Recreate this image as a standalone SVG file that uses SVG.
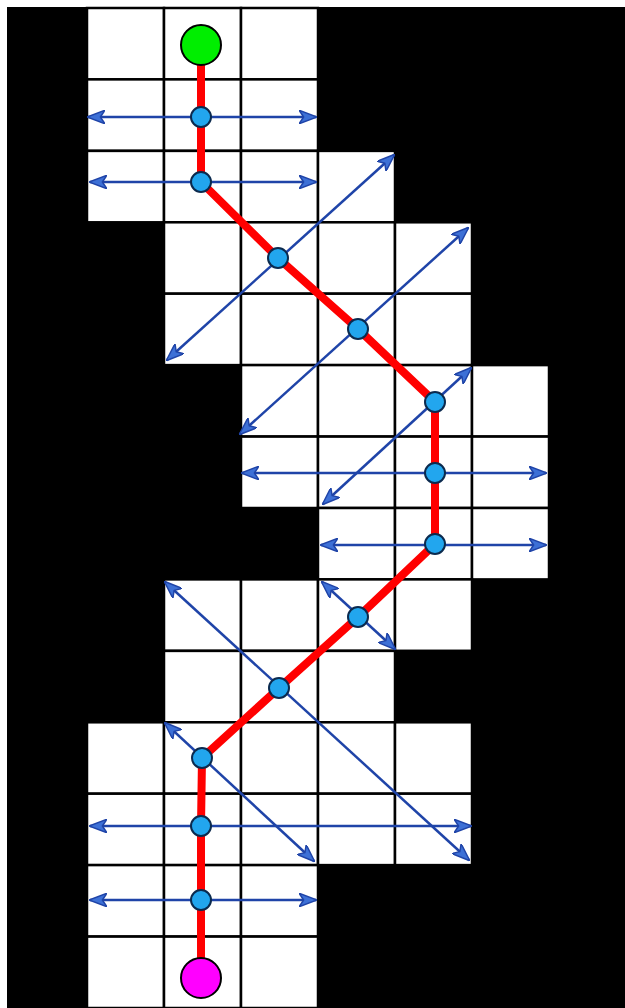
<svg xmlns="http://www.w3.org/2000/svg" width="625" height="1008" viewBox="0 0 625 1008">
<style>
.cell{fill:#ffffff;stroke:#000000;stroke-width:2.5}
.arr{stroke:#1f44a8;stroke-width:2.5;fill:none;marker-start:url(#ah);marker-end:url(#ah)}
.path{stroke:#ff0000;stroke-width:8;fill:none;stroke-linejoin:round}
.wp{fill:#22a6ee;stroke:#0b2a4e;stroke-width:2}
.end{stroke:#000000;stroke-width:2}
</style>
<defs>
<marker id="ah" markerUnits="userSpaceOnUse" viewBox="0 0 16 12" refX="15" refY="6" markerWidth="18" markerHeight="13.5" orient="auto-start-reverse">
<path d="M0,0 L16,6 L0,12 L4,6 Z" fill="#3d70d6" stroke="#1f44a8" stroke-width="1.3" stroke-linejoin="round"/>
</marker>
</defs>
<rect x="0" y="0" width="625" height="1008" fill="#ffffff"/>
<rect x="7" y="7" width="618" height="1001" fill="#000000"/>
<g id="grid">
<rect class="cell" x="87" y="8" width="77" height="71.4"/>
<rect class="cell" x="164" y="8" width="77" height="71.4"/>
<rect class="cell" x="241" y="8" width="77" height="71.4"/>
<rect class="cell" x="87" y="79.4" width="77" height="71.4"/>
<rect class="cell" x="164" y="79.4" width="77" height="71.4"/>
<rect class="cell" x="241" y="79.4" width="77" height="71.4"/>
<rect class="cell" x="87" y="150.9" width="77" height="71.4"/>
<rect class="cell" x="164" y="150.9" width="77" height="71.4"/>
<rect class="cell" x="241" y="150.9" width="77" height="71.4"/>
<rect class="cell" x="318" y="150.9" width="77" height="71.4"/>
<rect class="cell" x="164" y="222.3" width="77" height="71.4"/>
<rect class="cell" x="241" y="222.3" width="77" height="71.4"/>
<rect class="cell" x="318" y="222.3" width="77" height="71.4"/>
<rect class="cell" x="395" y="222.3" width="77" height="71.4"/>
<rect class="cell" x="164" y="293.7" width="77" height="71.4"/>
<rect class="cell" x="241" y="293.7" width="77" height="71.4"/>
<rect class="cell" x="318" y="293.7" width="77" height="71.4"/>
<rect class="cell" x="395" y="293.7" width="77" height="71.4"/>
<rect class="cell" x="241" y="365.1" width="77" height="71.4"/>
<rect class="cell" x="318" y="365.1" width="77" height="71.4"/>
<rect class="cell" x="395" y="365.1" width="77" height="71.4"/>
<rect class="cell" x="472" y="365.1" width="77" height="71.4"/>
<rect class="cell" x="241" y="436.6" width="77" height="71.4"/>
<rect class="cell" x="318" y="436.6" width="77" height="71.4"/>
<rect class="cell" x="395" y="436.6" width="77" height="71.4"/>
<rect class="cell" x="472" y="436.6" width="77" height="71.4"/>
<rect class="cell" x="318" y="508" width="77" height="71.4"/>
<rect class="cell" x="395" y="508" width="77" height="71.4"/>
<rect class="cell" x="472" y="508" width="77" height="71.4"/>
<rect class="cell" x="164" y="579.4" width="77" height="71.4"/>
<rect class="cell" x="241" y="579.4" width="77" height="71.4"/>
<rect class="cell" x="318" y="579.4" width="77" height="71.4"/>
<rect class="cell" x="395" y="579.4" width="77" height="71.4"/>
<rect class="cell" x="164" y="650.9" width="77" height="71.4"/>
<rect class="cell" x="241" y="650.9" width="77" height="71.4"/>
<rect class="cell" x="318" y="650.9" width="77" height="71.4"/>
<rect class="cell" x="87" y="722.3" width="77" height="71.4"/>
<rect class="cell" x="164" y="722.3" width="77" height="71.4"/>
<rect class="cell" x="241" y="722.3" width="77" height="71.4"/>
<rect class="cell" x="318" y="722.3" width="77" height="71.4"/>
<rect class="cell" x="395" y="722.3" width="77" height="71.4"/>
<rect class="cell" x="87" y="793.7" width="77" height="71.4"/>
<rect class="cell" x="164" y="793.7" width="77" height="71.4"/>
<rect class="cell" x="241" y="793.7" width="77" height="71.4"/>
<rect class="cell" x="318" y="793.7" width="77" height="71.4"/>
<rect class="cell" x="395" y="793.7" width="77" height="71.4"/>
<rect class="cell" x="87" y="865.1" width="77" height="71.4"/>
<rect class="cell" x="164" y="865.1" width="77" height="71.4"/>
<rect class="cell" x="241" y="865.1" width="77" height="71.4"/>
<rect class="cell" x="87" y="936.6" width="77" height="71.4"/>
<rect class="cell" x="164" y="936.6" width="77" height="71.4"/>
<rect class="cell" x="241" y="936.6" width="77" height="71.4"/>
</g>
<g id="connectors">
<line class="arr" x1="88" y1="117" x2="316" y2="117"/>
<line class="arr" x1="90" y1="182" x2="316" y2="182"/>
<line class="arr" x1="167" y1="360" x2="394" y2="155"/>
<line class="arr" x1="240" y1="434" x2="468" y2="228"/>
<line class="arr" x1="323" y1="504" x2="471" y2="368"/>
<line class="arr" x1="242" y1="473" x2="546" y2="473"/>
<line class="arr" x1="321" y1="545" x2="546" y2="545"/>
<line class="arr" x1="322" y1="582" x2="395" y2="649"/>
<line class="arr" x1="165" y1="582" x2="469" y2="860"/>
<line class="arr" x1="165" y1="723" x2="314" y2="861"/>
<line class="arr" x1="90" y1="826" x2="471" y2="826"/>
<line class="arr" x1="90" y1="900" x2="316" y2="900"/>
<polyline class="path" points="201,45 201,117 201,182 278,258 358,329 435,402 435,473 435,544 358,617 279,688 202,758 201,826 201,900 201,978"/>
</g>
<g id="start"><circle class="end" cx="201" cy="45" r="20" fill="#00ee00"/></g>
<g id="goal"><circle class="end" cx="201" cy="978" r="20" fill="#ff00ff"/></g>
<g id="n1"><circle class="wp" cx="201" cy="117" r="10"/></g>
<g id="n2"><circle class="wp" cx="201" cy="182" r="10"/></g>
<g id="n3"><circle class="wp" cx="278" cy="258" r="10"/></g>
<g id="n4"><circle class="wp" cx="358" cy="329" r="10"/></g>
<g id="n5"><circle class="wp" cx="435" cy="402" r="10"/></g>
<g id="n6"><circle class="wp" cx="435" cy="473" r="10"/></g>
<g id="n7"><circle class="wp" cx="435" cy="544" r="10"/></g>
<g id="n8"><circle class="wp" cx="358" cy="617" r="10"/></g>
<g id="n9"><circle class="wp" cx="279" cy="688" r="10"/></g>
<g id="n10"><circle class="wp" cx="202" cy="758" r="10"/></g>
<g id="n11"><circle class="wp" cx="201" cy="826" r="10"/></g>
<g id="n12"><circle class="wp" cx="201" cy="900" r="10"/></g>
</svg>
